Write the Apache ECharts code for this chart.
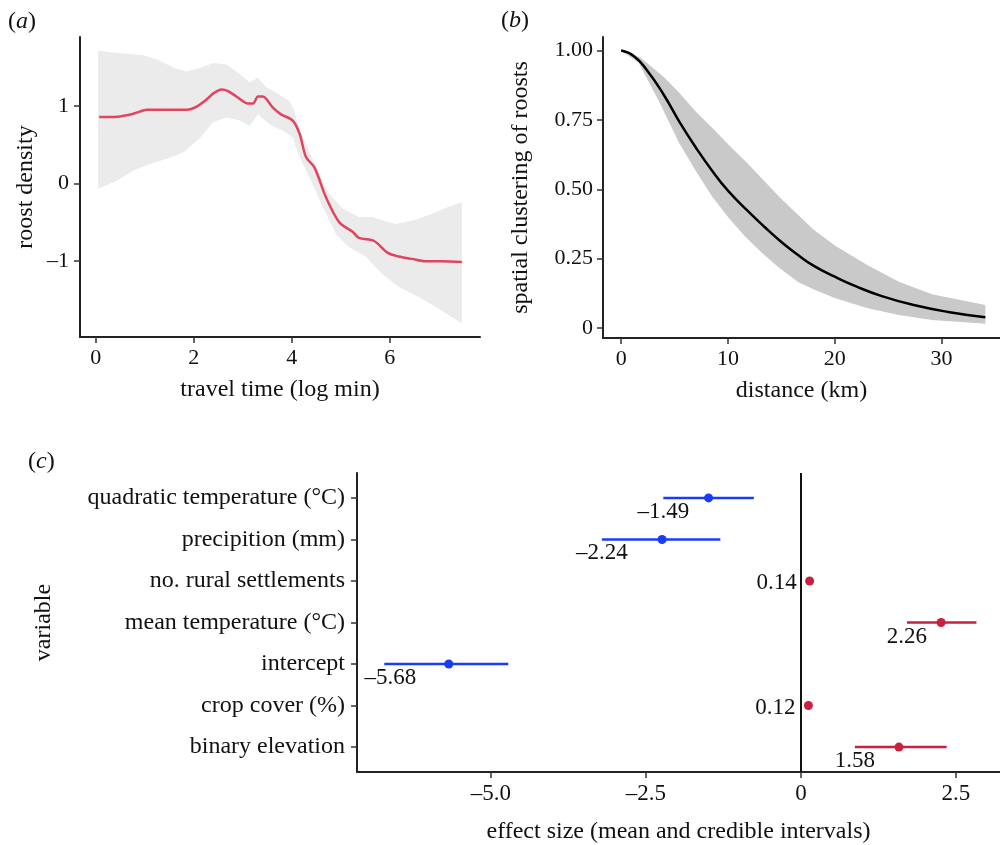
<!DOCTYPE html>
<html><head><meta charset="utf-8">
<script src="https://cdn.jsdelivr.net/npm/echarts@6/dist/echarts.min.js"></script>
<style>html,body{margin:0;padding:0;background:#fff}#c{width:1000px;height:845px}</style>
</head><body><div id="c"></div>
<script>
// ---- Panel (a): roost density vs travel time ----
const aMean = [[0.07,0.855],[0.44,0.86],[0.78,0.90],[1.05,0.95],[1.45,0.95],[1.86,0.95],[2.06,0.99],[2.26,1.08],[2.40,1.16],[2.57,1.21],[2.70,1.19],[2.87,1.12],[3.11,1.03],[3.21,1.03],[3.31,1.12],[3.41,1.12],[3.61,0.98],[3.78,0.89],[4.02,0.81],[4.16,0.64],[4.29,0.34],[4.46,0.21],[4.70,-0.18],[4.97,-0.50],[5.24,-0.62],[5.37,-0.70],[5.68,-0.74],[5.95,-0.89],[6.18,-0.94],[6.45,-0.97],[6.72,-1.00],[7.06,-1.00],[7.47,-1.01]];
const aUpper = [[0.05,1.71],[0.44,1.68],[0.98,1.65],[1.25,1.60],[1.59,1.49],[1.86,1.44],[2.13,1.49],[2.40,1.55],[2.67,1.53],[2.94,1.41],[3.14,1.30],[3.31,1.36],[3.48,1.24],[3.68,1.17],[3.95,1.06],[4.05,0.94],[4.16,0.68],[4.32,0.47],[4.56,0.12],[4.76,-0.13],[5.03,-0.32],[5.37,-0.43],[5.64,-0.43],[5.84,-0.47],[6.11,-0.52],[6.52,-0.47],[6.86,-0.39],[7.20,-0.30],[7.47,-0.24]];
const aLower = [[0.05,-0.07],[0.44,0.04],[0.78,0.17],[1.11,0.25],[1.45,0.32],[1.79,0.40],[2.13,0.59],[2.40,0.79],[2.67,0.85],[2.94,0.81],[3.14,0.74],[3.31,0.89],[3.55,0.76],[3.82,0.68],[4.02,0.59],[4.16,0.34],[4.36,0.08],[4.63,-0.30],[4.90,-0.65],[5.17,-0.82],[5.51,-0.94],[5.84,-1.16],[6.18,-1.33],[6.59,-1.46],[7.00,-1.61],[7.47,-1.80]];
const aXTicks = [0, 2, 4, 6];
const aYTicks = [-1, 0, 1];

// ---- Panel (b): spatial clustering vs distance ----
const bMean = [[0,1.0],[1.2,0.98],[2.4,0.93],[4,0.84],[5.5,0.74],[7,0.65],[8.5,0.568],[10,0.495],[11.8,0.424],[13.4,0.365],[15,0.31],[16.5,0.265],[18,0.225],[20,0.185],[22,0.15],[24.4,0.115],[27.5,0.082],[30.6,0.058],[34.1,0.039]];
const bUpper = [[0,1.0],[1.8,0.975],[4,0.905],[5.5,0.845],[7,0.78],[8.7,0.715],[10.2,0.655],[11.8,0.595],[13.4,0.53],[15,0.465],[16.5,0.41],[18,0.355],[20,0.297],[23,0.228],[26,0.167],[29.1,0.122],[34.1,0.083]];
const bLower = [[0,1.0],[1.65,0.955],[3.5,0.82],[5.4,0.67],[7,0.565],[8.5,0.475],[10,0.40],[11.6,0.33],[13.2,0.27],[14.7,0.22],[16.6,0.165],[18,0.14],[20,0.108],[23,0.072],[26,0.047],[29.1,0.029],[34.1,0.015]];
const bXTicks = [0, 10, 20, 30];
const bYTicks = [0, 0.25, 0.5, 0.75, 1];

// ---- Panel (c): effect sizes ----
const cVars = ['quadratic temperature (°C)','precipition (mm)','no. rural settlements','mean temperature (°C)','intercept','crop cover (%)','binary elevation'];
const cMean  = [-1.49, -2.24, 0.14, 2.26, -5.68, 0.12, 1.58];
const cLower = [-2.22, -3.21, 0.11, 1.71, -6.72, 0.09, 0.87];
const cUpper = [-0.76, -1.30, 0.17, 2.83, -4.72, 0.15, 2.35];
const cXTicks = [-5, -2.5, 0, 2.5];

// ---- styling ----
const FONT = 'Liberation Serif';
const INK = '#111';
const BLUE = '#1a3cf5';
const RED = '#c8203e';
const dash = v => (v < 0 ? '\u2013' : '') + Math.abs(v);

function axisCommon(extra) {
  return Object.assign({
    type: 'value',
    splitLine: { show: false },
    axisLine: { show: true, onZero: false, lineStyle: { color: '#222', width: 2 } },
    axisTick: { show: true, length: 6, lineStyle: { color: '#333', width: 1.5 } },
    nameLocation: 'middle',
    nameTextStyle: { fontFamily: FONT, fontSize: 24, color: INK },
  }, extra);
}

function bandSeries(upper, lower, idx, fill) {
  const poly = upper.concat(lower.slice().reverse());
  return {
    type: 'custom', xAxisIndex: idx, yAxisIndex: idx, silent: true, z: 1,
    data: [[poly[0][0], poly[0][1]]],
    clip: true,
    renderItem: (params, api) => ({
      type: 'polygon',
      shape: { points: poly.map(p => api.coord(p)) },
      style: { fill: fill, stroke: null }
    })
  };
}

const cRows = cVars.map((v, i) => [cLower[i], cUpper[i], i, cMean[i]]);

const option = {
  animation: false,
  backgroundColor: '#fff',
  textStyle: { fontFamily: FONT },
  grid: [
    { left: 80, top: 37, width: 400, height: 300 },
    { left: 603, top: 37, width: 397, height: 301 },
    { left: 357, top: 473, width: 643, height: 300 }
  ],
  xAxis: [
    axisCommon({ gridIndex: 0, min: -0.32, max: 7.84, name: 'travel time (log min)', nameGap: 41,
      axisTick: { show: true, length: 6, customValues: aXTicks, lineStyle: { color: '#333', width: 1.5 } },
      axisLabel: { customValues: aXTicks, fontFamily: FONT, fontSize: 22, color: INK, margin: 10, formatter: v => dash(v) } }),
    axisCommon({ gridIndex: 1, min: -1.7, max: 35.47, name: 'distance (km)', nameGap: 41,
      axisTick: { show: true, length: 6, customValues: bXTicks, lineStyle: { color: '#333', width: 1.5 } },
      axisLabel: { customValues: bXTicks, fontFamily: FONT, fontSize: 22, color: INK, margin: 10 } }),
    axisCommon({ gridIndex: 2, min: -7.16, max: 3.21, name: 'effect size (mean and credible intervals)', nameGap: 48,
      axisTick: { show: true, length: 6, customValues: cXTicks, lineStyle: { color: '#333', width: 1.5 } },
      axisLabel: { customValues: cXTicks, fontFamily: FONT, fontSize: 23, color: INK, margin: 10,
        formatter: v => v === 0 ? '0' : (v < 0 ? '\u2013' : '') + Math.abs(v).toFixed(1) } })
  ],
  yAxis: [
    axisCommon({ gridIndex: 0, min: -1.975, max: 1.885, name: 'roost density', nameGap: 42, nameRotate: 90,
      axisTick: { show: true, length: 6, customValues: aYTicks, lineStyle: { color: '#333', width: 1.5 } },
      axisLabel: { customValues: aYTicks, fontFamily: FONT, fontSize: 22, color: INK, margin: 11, formatter: v => dash(v) } }),
    axisCommon({ gridIndex: 1, min: -0.036, max: 1.049, name: 'spatial clustering of roosts', nameGap: 70, nameRotate: 90,
      axisTick: { show: true, length: 6, customValues: bYTicks, lineStyle: { color: '#333', width: 1.5 } },
      axisLabel: { customValues: bYTicks, fontFamily: FONT, fontSize: 22, color: INK, margin: 10,
        formatter: v => v === 0 ? '0' : v.toFixed(2) } }),
    axisCommon({ gridIndex: 2, min: -0.6, max: 6.6, inverse: true, name: 'variable', nameGap: 301, nameRotate: 90,
      axisTick: { show: true, length: 6, customValues: [0,1,2,3,4,5,6], lineStyle: { color: '#333', width: 1.5 } },
      axisLabel: { customValues: [0,1,2,3,4,5,6], fontFamily: FONT, fontSize: 24, color: INK, margin: 12,
        formatter: v => cVars[Math.round(v)] } })
  ],
  graphic: [
    { type: 'text', left: 8, top: 10, style: { rich: { n: { fontFamily: FONT, fontSize: 24, fill: INK }, i: { fontFamily: FONT, fontSize: 24, fontStyle: 'italic', fill: INK } }, text: '{n|(}{i|a}{n|)}' } },
    { type: 'text', left: 501, top: 9, style: { rich: { n: { fontFamily: FONT, fontSize: 24, fill: INK }, i: { fontFamily: FONT, fontSize: 24, fontStyle: 'italic', fill: INK } }, text: '{n|(}{i|b}{n|)}' } },
    { type: 'text', left: 28, top: 450, style: { rich: { n: { fontFamily: FONT, fontSize: 24, fill: INK }, i: { fontFamily: FONT, fontSize: 24, fontStyle: 'italic', fill: INK } }, text: '{n|(}{i|c}{n|)}' } }
  ],
  series: [
    bandSeries(aUpper, aLower, 0, '#ebebeb'),
    { type: 'line', xAxisIndex: 0, yAxisIndex: 0, data: aMean, showSymbol: false, smooth: 0.3, z: 3,
      lineStyle: { color: '#e2445f', width: 2.5 } },
    bandSeries(bUpper, bLower, 1, '#c9c9c9'),
    { type: 'line', xAxisIndex: 1, yAxisIndex: 1, data: bMean, showSymbol: false, smooth: 0.5, z: 3,
      lineStyle: { color: '#000', width: 2.5 } },
    { type: 'custom', xAxisIndex: 2, yAxisIndex: 2, z: 3,
      data: cRows, encode: { x: [0, 1], y: 2 },
      renderItem: (params, api) => {
        const lo = api.coord([api.value(0), api.value(2)]);
        const hi = api.coord([api.value(1), api.value(2)]);
        return { type: 'line', shape: { x1: lo[0], y1: lo[1], x2: hi[0], y2: hi[1] },
          style: { stroke: api.value(3) < 0 ? BLUE : RED, lineWidth: 2.5 } };
      },
      markLine: { silent: true, symbol: 'none', label: { show: false },
        lineStyle: { color: '#111', width: 2, type: 'solid' }, data: [{ xAxis: 0 }] }
    },
    { type: 'scatter', xAxisIndex: 2, yAxisIndex: 2, z: 4, symbolSize: 9,
      data: cRows.map(r => ({ value: [r[3], r[2]], itemStyle: { color: r[3] < 0 ? BLUE : RED, opacity: 1 } })) },
    { type: 'scatter', xAxisIndex: 2, yAxisIndex: 2, z: 5, symbolSize: 0, silent: true,
      itemStyle: { opacity: 1 },
      data: cRows.map(r => {
        const narrow = (r[1] - r[0]) < 0.3;
        return {
          value: narrow ? [r[3], r[2], r[3]] : [r[0], r[2], r[3]],
          label: narrow
            ? { show: true, position: 'left', distance: 13, offset: [0, 2] }
            : { show: true, position: 'inside', offset: [r[0] < -6 ? 6 : 0, 14] }
        };
      }),
      label: { fontFamily: FONT, fontSize: 23, color: INK, opacity: 1, formatter: p => dash(p.value[2]) }
    }
  ]
};

const chart = echarts.init(document.getElementById('c'), null, { renderer: 'canvas' });
chart.setOption(option);
</script>
</body></html>
